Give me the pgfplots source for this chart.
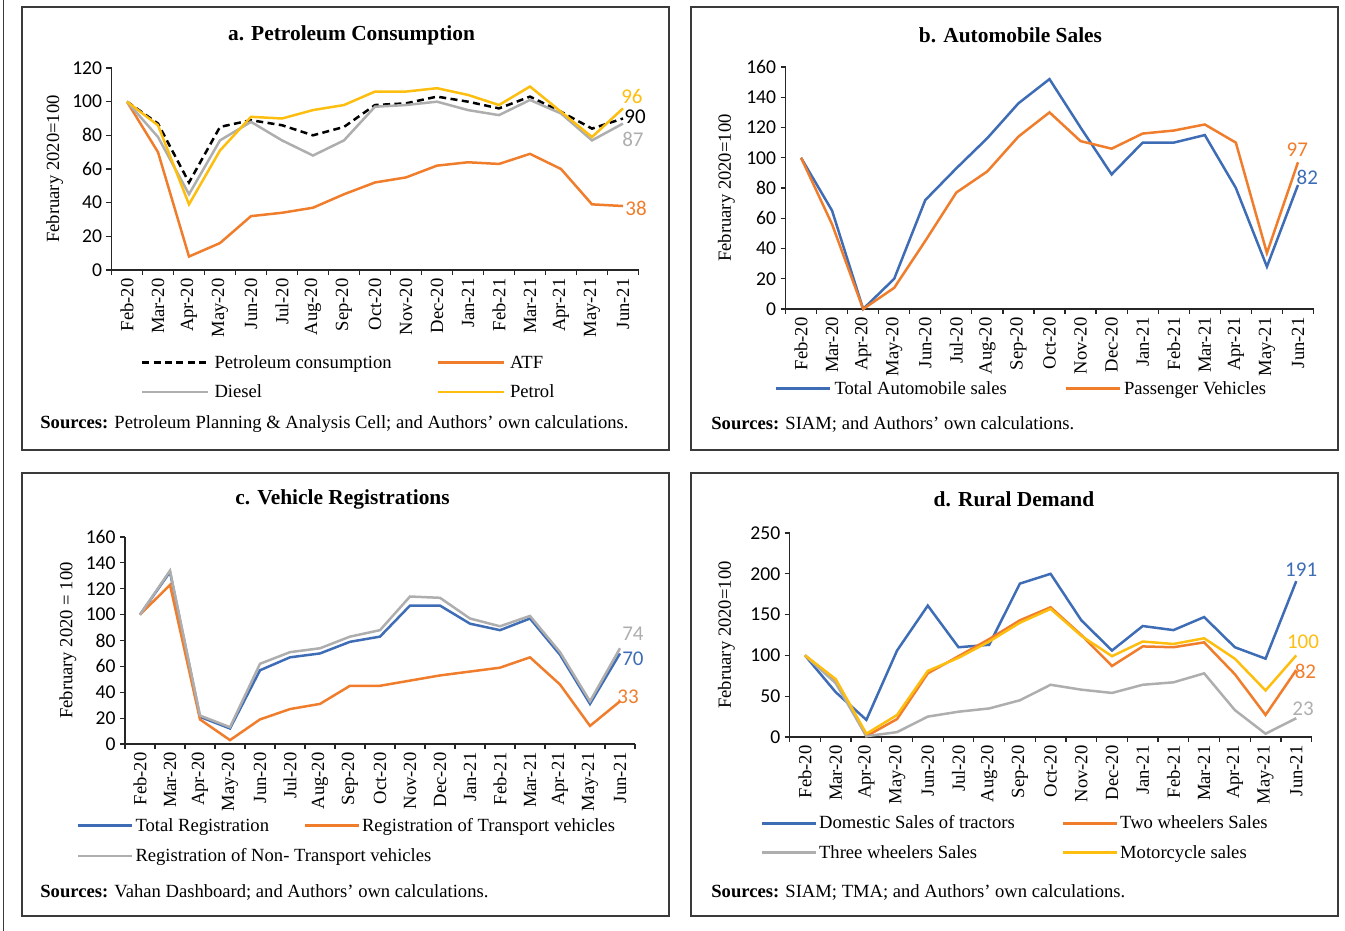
\documentclass[border=0pt]{standalone}
\usepackage{fontspec}
\setmainfont{Liberation Serif}
\newfontfamily\numfont{Carlito}
\usepackage{pgfplots}
\pgfplotsset{compat=1.18}

\definecolor{cblue}{HTML}{3E6DB6}
\definecolor{corange}{HTML}{F07D2C}
\definecolor{cgray}{HTML}{AEAEAE}
\definecolor{cyellow}{HTML}{FDBE10}
\definecolor{frame}{HTML}{3A3A3A}

% legend text of fixed width, fixed height
\newcommand\lgt[2]{\makebox[#1][l]{\rule[-2pt]{0pt}{9pt}#2}}
\newcommand\lgn[1]{\rule[-2pt]{0pt}{9pt}#1}

\tikzset{endlab/.style={font=\numfont\fontsize{10.5}{12}\selectfont, inner sep=0pt}}

\pgfplotsset{
  panel/.style={
    scale only axis, clip=false,
    axis x line*=bottom, axis y line*=left,
    axis line style={black!85, line width=0.6pt},
    tick align=outside, major tick length=2.5pt,
    tick style={black!85, line width=0.6pt},
    xmin=-0.5, xmax=16.5, ymin=0,
    xtick={-0.5,0.5,...,16.5},
    x tick label as interval,
    xticklabels={Feb-20,Mar-20,Apr-20,May-20,Jun-20,Jul-20,Aug-20,Sep-20,Oct-20,Nov-20,Dec-20,Jan-21,Feb-21,Mar-21,Apr-21,May-21,Jun-21},
    x tick label style={rotate=90, anchor=east, inner sep=1.5pt, font=\fontsize{9.3}{11}\selectfont},
    y tick label style={font=\numfont\fontsize{9.8}{11}\selectfont, inner sep=2pt},
    /pgf/number format/assume math mode=true,
    ylabel style={anchor=center, font=\fontsize{9.3}{11}\selectfont},
    every axis plot/.append style={line width=1.25pt, no markers},
    legend columns=2, legend cell align=left,
    legend style={draw=none, fill=none, inner sep=0pt, outer sep=0pt, anchor=north west,
      column sep=0pt, nodes={inner sep=0pt, font=\fontsize{9.3}{11}\selectfont}},
  },
}

\begin{document}
\fontsize{9.3}{11}\selectfont
\begin{tikzpicture}
\useasboundingbox (0pt,0pt) rectangle (672.5pt,-465.5pt);

\begin{scope}[x=0.5pt, y=-0.5pt]
  \draw[frame, line width=0.7pt] (3.5,0) -- (3.5,931);
  \draw[frame, line width=0.75pt] (22,7) rectangle (669,450);
  \draw[frame, line width=0.75pt] (691,7) rectangle (1338,450);
  \draw[frame, line width=0.75pt] (22,473) rectangle (669,916);
  \draw[frame, line width=0.75pt] (691,473) rectangle (1338,916);
  \begin{scope}[every node/.style={font=\bfseries\fontsize{10.7}{12}\selectfont}]
    \node at (351.5,35) {a. Petroleum Consumption};
    \node at (1010.5,35) {b. Automobile Sales};
    \node at (342.5,499) {c. Vehicle Registrations};
    \node at (1014,499) {d. Rural Demand};
  \end{scope}
  \begin{scope}[every node/.style={anchor=west, inner sep=0pt}]
    \node at (40,424) {\textbf{Sources:} Petroleum Planning \& Analysis Cell; and Authors' own calculations.};
    \node at (711,424) {\textbf{Sources:} SIAM; and Authors' own calculations.};
    \node at (40,892) {\textbf{Sources:} Vahan Dashboard; and Authors' own calculations.};
    \node at (711,892) {\textbf{Sources:} SIAM; TMA; and Authors' own calculations.};
  \end{scope}
\end{scope}

% a. Petroleum Consumption
\begin{axis}[panel, at={(55.75pt,-135pt)}, anchor=south west, width=263.5pt, height=101pt,
  ymax=120, ytick={0,20,...,120},
  ylabel={February 2020=100}, ylabel style={at={(axis description cs:-0.108,0.5)}},
  legend style={at={(axis description cs:0.056,-0.416)}, row sep=6.5pt},
  legend image code/.code={\draw[line width=1.25pt,#1] (0pt,0pt) -- (33pt,0pt); \path (35.5pt,0pt);}]
\addplot[black, dash pattern=on 3.5pt off 2.2pt] coordinates {(0,100) (1,87) (2,52) (3,85) (4,89) (5,86) (6,80) (7,85) (8,98) (9,99) (10,103) (11,100) (12,96) (13,103) (14,94) (15,84) (16,90)};
\addlegendentry{\lgt{111pt}{Petroleum consumption}}
\addplot[corange] coordinates {(0,100) (1,70) (2,8) (3,16) (4,32) (5,34) (6,37) (7,45) (8,52) (9,55) (10,62) (11,64) (12,63) (13,69) (14,60) (15,39) (16,38)};
\addlegendentry{\lgn{ATF}}
\addplot[cgray] coordinates {(0,100) (1,79) (2,45) (3,77) (4,88) (5,77) (6,68) (7,77) (8,97) (9,98) (10,100) (11,95) (12,92) (13,101) (14,93) (15,77) (16,87)};
\addlegendentry{\lgt{111pt}{Diesel}}
\addplot[cyellow] coordinates {(0,100) (1,86) (2,39) (3,71) (4,91) (5,90) (6,95) (7,98) (8,106) (9,106) (10,108) (11,104) (12,98) (13,109) (14,94) (15,79) (16,96)};
\addlegendentry{\lgn{Petrol}}
\node[endlab, text=cyellow] at (axis cs:16.29,102.8) {96};
\node[endlab, text=black] at (axis cs:16.39,90.9) {90};
\node[endlab, text=cgray] at (axis cs:16.32,77.8) {87};
\node[endlab, text=corange] at (axis cs:16.42,36.8) {38};
\end{axis}

% b. Automobile Sales
\begin{axis}[panel, at={(392.75pt,-154.5pt)}, anchor=south west, width=264pt, height=121pt,
  ymax=160, ytick={0,20,...,160},
  ylabel={February 2020=100}, ylabel style={at={(axis description cs:-0.112,0.5)}},
  legend style={at={(axis description cs:-0.0199,-0.2934)}},
  legend image code/.code={\draw[line width=1.25pt,#1] (0pt,0pt) -- (27pt,0pt); \path (28.5pt,0pt);}]
\addplot[cblue] coordinates {(0,100) (1,65) (2,0) (3,20) (4,72) (5,93) (6,113) (7,136) (8,152) (9,120) (10,89) (11,110) (12,110) (13,115) (14,80) (15,28) (16,82)};
\addlegendentry{\lgt{115pt}{Total Automobile sales}}
\addplot[corange] coordinates {(0,100) (1,56) (2,0) (3,14) (4,45) (5,77) (6,91) (7,114) (8,130) (9,111) (10,106) (11,116) (12,118) (13,122) (14,110) (15,37) (16,97)};
\addlegendentry{\lgn{Passenger Vehicles}}
\node[endlab, text=corange] at (axis cs:15.98,105.6) {97};
\node[endlab, text=cblue] at (axis cs:16.30,87.1) {82};
\end{axis}

% c. Vehicle Registrations
\begin{axis}[panel, at={(62.5pt,-372pt)}, anchor=south west, width=255pt, height=103.5pt,
  ymax=160, ytick={0,20,...,160},
  ylabel={February 2020 = 100}, ylabel style={at={(axis description cs:-0.112,0.5)}},
  legend style={at={(axis description cs:-0.0941,-0.3527)}, row sep=7pt},
  legend image code/.code={\draw[line width=1.25pt,#1] (0pt,0pt) -- (27pt,0pt); \path (28pt,0pt);}]
\addplot[cblue] coordinates {(0,100) (1,133) (2,21) (3,12) (4,57) (5,67) (6,70) (7,79) (8,83) (9,107) (10,107) (11,93) (12,88) (13,97) (14,69) (15,31) (16,70)};
\addlegendentry{\lgt{84pt}{Total Registration}}
\addplot[corange] coordinates {(0,100) (1,123) (2,19) (3,3) (4,19) (5,27) (6,31) (7,45) (8,45) (9,49) (10,53) (11,56) (12,59) (13,67) (14,46) (15,14) (16,33)};
\addlegendentry{\lgn{Registration of Transport vehicles}}
\addplot[cgray] coordinates {(0,100) (1,134) (2,22) (3,13) (4,62) (5,71) (6,74) (7,83) (8,88) (9,114) (10,113) (11,97) (12,91) (13,99) (14,71) (15,33) (16,74)};
\addlegendentry{\lgt{84pt}{Registration of Non- Transport vehicles}}
\node[endlab, text=cgray] at (axis cs:16.43,85.0) {74};
\node[endlab, text=cblue] at (axis cs:16.43,65.7) {70};
\node[endlab, text=corange] at (axis cs:16.27,36.3) {33};
\end{axis}

% d. Rural Demand
\begin{axis}[panel, at={(394.8pt,-368.5pt)}, anchor=south west, width=261pt, height=102pt,
  ymax=250, ytick={0,50,...,250},
  ylabel={February 2020=100}, ylabel style={at={(axis description cs:-0.121,0.5)}},
  legend style={at={(axis description cs:-0.0548,-0.382)}, row sep=6.25pt},
  legend image code/.code={\draw[line width=1.25pt,#1] (0pt,0pt) -- (27pt,0pt); \path (27.8pt,0pt);}]
\addplot[cblue] coordinates {(0,100) (1,55) (2,21) (3,106) (4,161) (5,110) (6,113) (7,188) (8,200) (9,143) (10,106) (11,136) (12,131) (13,147) (14,110) (15,96) (16,191)};
\addlegendentry{\lgt{121.5pt}{Domestic Sales of tractors}}
\addplot[corange] coordinates {(0,100) (1,70) (2,1) (3,22) (4,78) (5,99) (6,120) (7,143) (8,159) (9,125) (10,87) (11,111) (12,110) (13,116) (14,77) (15,27) (16,82)};
\addlegendentry{\lgn{Two wheelers Sales}}
\addplot[cgray] coordinates {(0,100) (1,66) (2,1) (3,6) (4,25) (5,31) (6,35) (7,45) (8,64) (9,58) (10,54) (11,64) (12,67) (13,78) (14,33) (15,4) (16,23)};
\addlegendentry{\lgt{121.5pt}{Three wheelers Sales}}
\addplot[cyellow] coordinates {(0,100) (1,71) (2,4) (3,27) (4,81) (5,97) (6,117) (7,140) (8,157) (9,124) (10,99) (11,117) (12,114) (13,121) (14,96) (15,57) (16,100)};
\addlegendentry{\lgn{Motorcycle sales}}
\node[endlab, text=cblue] at (axis cs:16.16,204.7) {191};
\node[endlab, text=cyellow] at (axis cs:16.22,116.8) {100};
\node[endlab, text=corange] at (axis cs:16.30,80.0) {82};
\node[endlab, text=cgray] at (axis cs:16.22,35.2) {23};
\end{axis}
\end{tikzpicture}
\end{document}
